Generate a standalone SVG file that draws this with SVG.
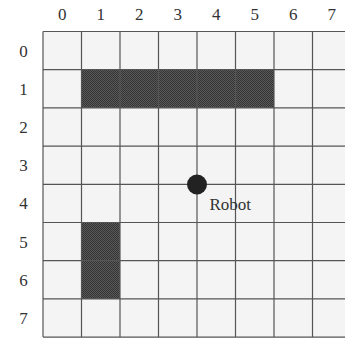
<svg xmlns="http://www.w3.org/2000/svg" width="345" height="342" viewBox="0 0 345 342">
<style>
.lbl{font-family:"Liberation Serif","Times New Roman",serif;font-size:17px;fill:#333;text-anchor:middle}
.grid{stroke:#555;stroke-width:1.2;fill:none}
.wall{fill:url(#chk)}
</style>
<defs>
<pattern id="chk" width="2" height="2" patternUnits="userSpaceOnUse">
<rect width="2" height="2" fill="#5a5a5a"/>
<rect width="1" height="1" fill="#333"/>
<rect x="1" y="1" width="1" height="1" fill="#333"/>
</pattern>
</defs>
<rect width="345" height="342" fill="#fff"/>
<g id="board">
<rect x="43" y="31.5" width="308.5" height="305.6" fill="#f4f4f4"/>
<rect class="wall" x="81.5" y="69.7" width="192.5" height="38.2"/>
<rect class="wall" x="81.5" y="222.5" width="38.5" height="76.4"/>
<g class="grid">
<path d="M43 31.5V337.1M81.5 31.5V337.1M120 31.5V337.1M158.5 31.5V337.1M197 31.5V337.1M235.5 31.5V337.1M274 31.5V337.1M312.5 31.5V337.1"/>
<path d="M43 31.5H345M43 69.7H345M43 107.9H345M43 146.1H345M43 184.3H345M43 222.5H345M43 260.7H345M43 298.9H345M43 337.1H345"/>
</g>
</g>
<g id="col-labels">
<text class="lbl" x="62.2" y="20">0</text>
<text class="lbl" x="100.7" y="20">1</text>
<text class="lbl" x="139.2" y="20">2</text>
<text class="lbl" x="177.7" y="20">3</text>
<text class="lbl" x="216.2" y="20">4</text>
<text class="lbl" x="254.7" y="20">5</text>
<text class="lbl" x="293.2" y="20">6</text>
<text class="lbl" x="331.7" y="20">7</text>
</g>
<g id="row-labels">
<text class="lbl" x="23.5" y="56.5">0</text>
<text class="lbl" x="23.5" y="94.7">1</text>
<text class="lbl" x="23.5" y="132.9">2</text>
<text class="lbl" x="23.5" y="171.1">3</text>
<text class="lbl" x="23.5" y="209.3">4</text>
<text class="lbl" x="23.5" y="247.5">5</text>
<text class="lbl" x="23.5" y="285.7">6</text>
<text class="lbl" x="23.5" y="323.9">7</text>
</g>
<g id="robot">
<circle cx="197" cy="184.5" r="10" fill="#222"/>
<text class="lbl" x="209.5" y="210" style="text-anchor:start">Robot</text>
</g>
</svg>
